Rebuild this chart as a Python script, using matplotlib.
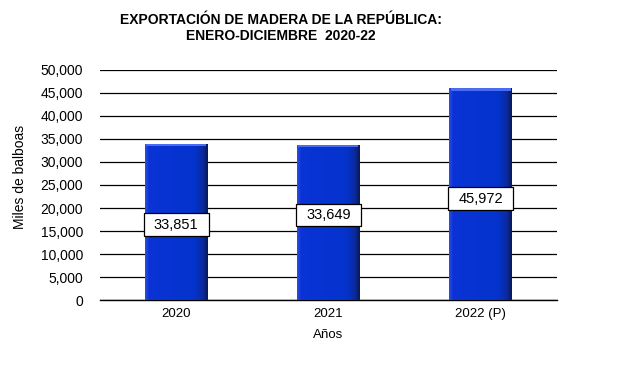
import matplotlib
matplotlib.use("Agg")
import matplotlib.pyplot as plt
import numpy as np
from matplotlib.colors import LinearSegmentedColormap
from matplotlib.patches import Rectangle

plt.rcParams['font.family'] = ['Liberation Sans', 'DejaVu Sans']

# Data
years = ["2020", "2021", "2022 (P)"]
values = [33851, 33649, 45972]
value_labels = ["33,851", "33,649", "45,972"]
yticks = [0, 5000, 10000, 15000, 20000, 25000, 30000, 35000, 40000, 45000, 50000]

# where the data labels sit, as a fraction of bar height
label_frac = [0.485, 0.55, 0.48]

fig = plt.figure(figsize=(6.27, 3.70), dpi=100)
ax = fig.add_axes([0.1595, 0.189, 0.7285, 0.622])

x = np.arange(len(years))
width = 0.41

# horizontal gradient for the bars: light edge, blue body, dark right edge
cmap = LinearSegmentedColormap.from_list(
    "bar", [(0.0, "#2a4be0"), (0.06, "#0a33d6"), (0.8, "#0433cc"),
            (0.93, "#0a2a9e"), (1.0, "#0a1a55")])
grad = np.linspace(0, 1, 64).reshape(1, -1)

for xi, v in zip(x, values):
    ax.imshow(grad, extent=(xi - width / 2, xi + width / 2, 0, v),
              aspect="auto", cmap=cmap, zorder=3, interpolation="bilinear")
    # top bevel
    ax.bar(xi, v * 0.012, bottom=v - v * 0.012, width=width * 0.96,
           color="#4a6cf0", zorder=4, linewidth=0)

ax.set_xlim(-0.5, 2.5)
ax.set_ylim(0, 50000)

ax.set_yticks(yticks)
ax.set_yticklabels([f"{t:,}" for t in yticks], fontsize=10)
ax.yaxis.grid(True, color="black", linewidth=0.9, zorder=1)
ax.set_axisbelow(True)
ax.tick_params(axis="y", length=0, pad=12)
ax.set_xticks(x)
ax.set_xticklabels(years, fontsize=9.5)
ax.tick_params(axis="x", length=0, pad=6)

for s in ["top", "right", "left"]:
    ax.spines[s].set_visible(False)
ax.spines["bottom"].set_linewidth(1.0)

# data labels in white boxes about as wide as the bars
box_w = width * 1.04
box_h = 4900
for xi, v, lab, f in zip(x, values, value_labels, label_frac):
    yc = v * f
    ax.add_patch(Rectangle((xi - box_w / 2, yc - box_h / 2), box_w, box_h,
                           facecolor="white", edgecolor="black",
                           linewidth=0.9, zorder=5))
    ax.text(xi, yc, lab, ha="center", va="center", fontsize=10.5, zorder=6)

ax.set_xlabel("Años", fontsize=9.5, labelpad=6)
ax.set_ylabel("Miles de balboas", fontsize=10)
ax.yaxis.set_label_coords(-0.16, 0.535)

fig.text(0.448, 0.965, "EXPORTACIÓN DE MADERA DE LA REPÚBLICA:\nENERO-DICIEMBRE  2020-22",
         ha="center", va="top", fontsize=10, fontweight="bold", linespacing=1.15)

fig.savefig("out.png", dpi=100)
